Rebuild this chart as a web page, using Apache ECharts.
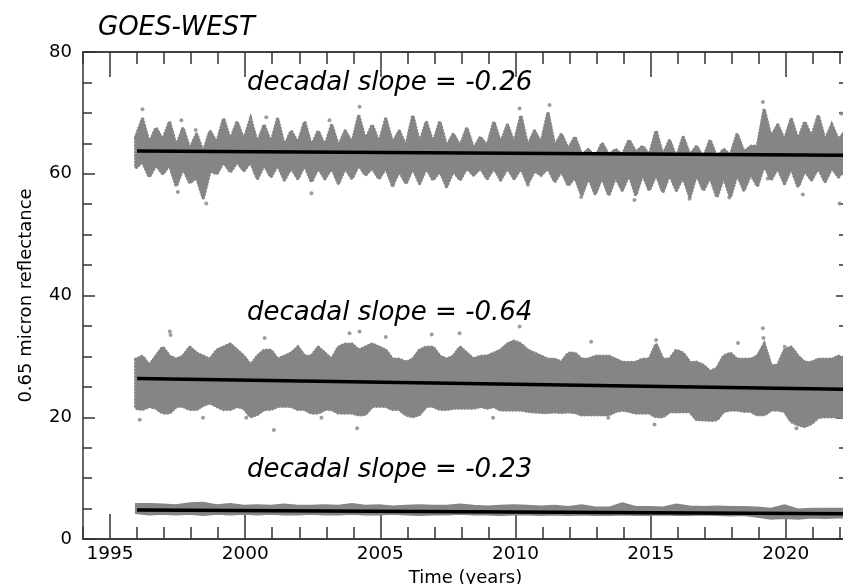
<!DOCTYPE html>
<html>
<head>
<meta charset="utf-8">
<script src="https://cdn.jsdelivr.net/npm/echarts@6/dist/echarts.min.js"></script>
<style>
html, body { margin: 0; padding: 0; background: #fff; }
#main { width: 843px; height: 584px; }
</style>
</head>
<body>
<div id="main"></div>
<script>
// sample times: every quarter year from 1995.95 (seasonal trough / peak alternating)
const tStart = 1995.95
const tStep = 0.25

// top series -- semi-annual cycle
const topPeakMax = [69, 67.5, 68.5, 67.5, 66.5, 67, 69, 68.5, 69, 68, 69, 67, 68.5, 67, 68, 67, 69.5,
  68, 69, 67, 69.5, 68.5, 68.5, 66.5, 67.5, 66, 68.5, 68, 69.5, 67, 70, 66.5, 66, 64,
  65, 64, 65.5, 64.5, 67, 65.5, 66, 64.5, 65.5, 64, 66.5, 64.5, 70.5, 68, 69, 68.5, 69.5, 68, 67]
const topPeakLow = [62, 61.5, 61.5, 61, 59.5, 60.5, 62, 62, 62, 61.5, 61.5, 61, 61.5, 61, 61, 61, 61.5,
  61, 61, 60.5, 61, 61, 60.5, 60.5, 61, 61, 61, 61, 61, 60.5, 61, 60.5, 59.5, 59.5,
  59.5, 59.5, 60, 60, 60, 60, 59.5, 60, 59.5, 59.5, 60, 60, 61.5, 61, 61, 60.5, 61, 61, 61]
const topTroughHigh = [66, 65, 65.5, 64.5, 64, 63.5, 65, 65.5, 65.5, 65, 65, 64.5, 65, 64.5, 64.5, 64.5, 65, 65.5,
  65, 65, 64.5, 65, 65, 64.5, 64.5, 64, 64.5, 65, 65, 64.5, 65, 64.5, 64, 63, 62.5,
  63, 63, 63.5, 63, 63, 62.5, 63, 62.5, 62.5, 63, 63.5, 64.5, 66, 65.5, 65.5, 66, 65.5, 65.5]
const topTroughMin = [61, 59.5, 60, 58, 58.5, 56, 60, 60.3, 60.5, 59.2, 59.5, 59, 59.2, 58.7, 59.2, 58.4, 59.2, 59.8,
  59.2, 58.1, 58.4, 58.4, 59, 57.9, 59, 59.8, 59.2, 59, 59.2, 58.4, 59.8, 58.7, 58.1, 56.5, 56.7,
  56.5, 57.3, 56.5, 57.3, 57, 57.3, 56.2, 57.3, 56.2, 56.2, 57.3, 58, 59, 58.4, 57.9, 59, 58.7, 59.5]
// isolated points outside the top band [year, value]
const topOutliers = [[1997.51, 57.0], [1998.56, 55.1], [1997.64, 68.8], [1998.17, 67.2], [2004.23, 71.0],
  [2000.78, 69.3], [2003.12, 68.8], [2002.45, 56.8], [2005.46, 58.1], [2010.46, 58.2], [2011.26, 71.3],
  [2010.15, 70.7], [2012.43, 56.2], [2019.15, 71.8], [2014.4, 55.7], [2016.44, 55.9], [2017.91, 56.1],
  [2020.63, 56.6], [2021.99, 55.1], [2020.5, 58.4], [2019.33, 59.2], [2022.05, 69.9], [1996.2, 70.6]]

// middle series, quarter-year envelope
const midHigh = [29.5, 30, 28.5, 30, 31.5, 30, 29.5, 30, 31.5, 30.5,
  30, 29.5, 31, 31.5, 32, 31, 30, 28.5, 30, 31,
  31, 29.5, 30, 30.5, 31.5, 30, 30, 31.5, 30.5, 29.5,
  31.5, 32, 32, 31, 31.5, 32, 31.5, 31, 29.5, 29.5,
  29, 29.5, 31, 31.5, 31.5, 30, 29.5, 30, 31.5, 30.5,
  29.5, 30, 30, 30.5, 31, 32, 32.5, 32, 31, 30.5,
  30, 29.5, 29.5, 29, 30.5, 30.5, 29.5, 29.5, 30, 30,
  30, 29.5, 29, 29, 29, 29.5, 29.5, 32, 29.5, 29.5,
  31, 30.5, 29, 29, 28.5, 27.5, 28, 30, 30.5, 29.5,
  29.5, 29.5, 30, 32, 28.5, 28.5, 31, 31.5, 30, 29,
  29, 29.5, 29.5, 29.5, 30, 29.5]
const midLow = [21.5, 21.3, 21.8, 21.5, 20.7, 20.7, 21.8, 21.8, 21.3, 21.3,
  22, 22.4, 21.8, 21.3, 21.3, 21.8, 21.5, 20.1, 20.5, 21.3,
  21.3, 21.8, 21.8, 21.8, 21.3, 21.3, 20.7, 20.7, 21.3, 21.3,
  20.7, 20.7, 20.7, 20.4, 20.5, 21.8, 21.8, 21.8, 21.3, 21.3,
  20.4, 20.1, 20.5, 21.8, 21.8, 21.3, 21.3, 21.5, 21.5, 21.5,
  21.5, 21.8, 21.5, 21.8, 21.2, 21.2, 21.2, 21.2, 21, 20.9,
  20.8, 20.8, 20.9, 20.8, 20.9, 20.8, 20.4, 20.4, 20.4, 20.4,
  20.4, 21, 21.2, 21, 20.7, 20.7, 20.7, 20.1, 20.1, 20.9,
  20.9, 20.9, 20.9, 19.6, 19.6, 19.5, 19.6, 21, 21.2, 21.2,
  21, 21, 20.4, 20.4, 21.2, 21.2, 21, 19.3, 18.8, 18.5,
  19, 20, 20.1, 20.1, 20.1, 20]
const midOutliers = [[1997.21, 34.1], [1997.24, 33.5], [2001.06, 17.9], [2004.14, 18.2], [2000.72, 33.0],
  [2003.86, 33.8], [2004.23, 34.1], [2007.93, 33.8], [1996.1, 19.6], [1998.44, 19.9], [2000.04, 19.9],
  [2002.82, 19.9], [2010.15, 34.9], [2012.8, 32.4], [2015.2, 32.7], [2019.15, 34.6], [2019.17, 33.0],
  [2018.23, 32.2], [2019.96, 31.6], [2015.14, 18.8], [2020.39, 18.2], [2009.17, 19.9], [2013.43, 19.9],
  [2017.49, 19.9], [2005.2, 33.2], [2006.9, 33.6]]

// bottom series, half-year envelope
const lowStep = 0.5
const lowHigh = [5.8, 5.8, 5.7, 5.6, 5.9, 6.0, 5.6, 5.8, 5.5, 5.6,
  5.5, 5.7, 5.5, 5.5, 5.6, 5.5, 5.8, 5.5, 5.6, 5.4,
  5.5, 5.6, 5.5, 5.5, 5.7, 5.5, 5.4, 5.5, 5.6, 5.5,
  5.4, 5.5, 5.3, 5.6, 5.2, 5.2, 5.9, 5.3, 5.3, 5.2,
  5.7, 5.4, 5.3, 5.4, 5.3, 5.3, 5.2, 5.0, 5.6, 4.9,
  5.0, 5.0, 5.0, 5.0]
const lowLow = [4.2, 4.0, 4.1, 4.0, 4.1, 3.9, 4.1, 4.0, 4.1, 4.0,
  4.1, 4.0, 4.0, 4.1, 4.0, 4.0, 4.1, 4.0, 4.0, 4.1,
  4.0, 3.9, 4.0, 4.0, 4.1, 4.0, 4.0, 3.9, 4.0, 4.0,
  3.9, 4.0, 3.9, 4.0, 3.9, 3.9, 4.0, 3.9, 3.9, 4.0,
  3.9, 3.9, 4.0, 3.9, 3.8, 3.9, 3.6, 3.3, 3.4, 3.3,
  3.5, 3.4, 3.5, 3.5]

// linear fits [start, end]
const fitYears = [1996.0, 2022.3]
const topFit = [63.75, 63.03]
const midFit = [26.35, 24.6]
const lowFit = [4.75, 4.13]

const slopes = ['-0.26', '-0.64', '-0.23']
const majorYears = [1995, 2000, 2005, 2010, 2015, 2020]
const minorYears = []
for (let y = 1994; y <= 2022; y++) if (y % 5 !== 0) minorYears.push(y)

// interleave trough / peak values onto the quarter grid
const topHigh = [], topLow = []
for (let i = 0; i < topTroughMin.length; i++) {
  topHigh.push(topTroughHigh[i], topPeakMax[i])
  topLow.push(topTroughMin[i], topPeakLow[i])
}

const gray = '#858585'
const axisColor = '#333'
const font = 'DejaVu Sans'

var chart = echarts.init(document.getElementById('main'), null, { renderer: 'canvas' })

function band(step, hi, lo, dotted) {
  const times = hi.map((v, i) => tStart + i * step)
  return {
    type: 'custom',
    xAxisIndex: 0,
    yAxisIndex: 0,
    clip: true,
    silent: true,
    z: 2,
    data: [[times[0], lo[0]]],
    encode: { x: 0, y: 1 },
    renderItem: function (params, api) {
      const pts = []
      for (let i = 0; i < times.length; i++) pts.push(api.coord([times[i], hi[i]]))
      for (let i = times.length - 1; i >= 0; i--) pts.push(api.coord([times[i], lo[i]]))
      return {
        type: 'polygon',
        shape: { points: pts },
        style: dotted
          ? { fill: gray, stroke: gray, lineWidth: 3.6, lineDash: [0.1, 3.2], lineCap: 'round' }
          : { fill: gray, stroke: gray, lineWidth: 1.5 }
      }
    }
  }
}

function dots(pts) {
  return {
    type: 'scatter',
    xAxisIndex: 0,
    yAxisIndex: 0,
    silent: true,
    symbolSize: 4,
    z: 2,
    itemStyle: { color: gray },
    data: pts
  }
}

function fit(vals) {
  return {
    type: 'line',
    xAxisIndex: 0,
    yAxisIndex: 0,
    symbol: 'none',
    silent: true,
    z: 3,
    lineStyle: { color: '#000', width: 3.5 },
    data: [[fitYears[0], vals[0]], [fitYears[1], vals[1]]]
  }
}

function xAx(pos, ticks, len, labels) {
  return {
    type: 'value', gridIndex: 0, position: pos, min: 1994, max: 2022.3,
    axisLine: { show: true, onZero: false, lineStyle: { color: axisColor, width: 1.5 } },
    axisTick: { show: true, inside: true, length: len, customValues: ticks, lineStyle: { color: axisColor, width: 1.5 } },
    axisLabel: labels
      ? { show: true, customValues: majorYears, formatter: v => String(v), fontFamily: font, fontSize: 18.5, color: '#000', margin: 6 }
      : { show: false },
    splitLine: { show: false }
  }
}

function yAx(pos, labels) {
  return {
    type: 'value', gridIndex: 0, position: pos, min: 0, max: 80, interval: 20,
    axisLine: { show: true, lineStyle: { color: axisColor, width: 1.5 } },
    axisTick: { show: true, inside: true, length: 12, lineStyle: { color: axisColor, width: 1.5 } },
    minorTick: { show: true, splitNumber: 4, length: 9, lineStyle: { color: axisColor, width: 1.5 } },
    axisLabel: { show: labels, fontFamily: font, fontSize: 18, color: '#000', margin: 11 },
    splitLine: { show: false },
    minorSplitLine: { show: false }
  }
}

const xBottom = xAx('bottom', majorYears, 25, true)
xBottom.name = 'Time (years)'
xBottom.nameLocation = 'middle'
xBottom.nameGap = 28
xBottom.nameTextStyle = { fontFamily: font, fontSize: 18, color: '#000' }

const yLeft = yAx('left', true)
yLeft.name = '0.65 micron reflectance'
yLeft.nameLocation = 'middle'
yLeft.nameGap = 48
yLeft.nameTextStyle = { fontFamily: font, fontSize: 18, color: '#000' }

function note(txt, x, y, size) {
  return {
    type: 'text', x: x, y: y, silent: true, z: 10,
    style: { text: txt, fill: '#000', font: 'italic ' + size + 'px "DejaVu Sans"', textVerticalAlign: 'middle' }
  }
}

const option = {
  animation: false,
  backgroundColor: '#fff',
  grid: { left: 83, top: 52, right: -5, bottom: 45, outerBoundsMode: 'none', containLabel: false },
  xAxis: [
    xBottom,
    xAx('bottom', minorYears, 12, false),
    xAx('top', majorYears, 25, false),
    xAx('top', minorYears, 12, false)
  ],
  yAxis: [yLeft, yAx('right', false)],
  graphic: [
    note('GOES-WEST', 98, 28, 26),
    note('decadal slope = ' + slopes[0], 247, 83, 26),
    note('decadal slope = ' + slopes[1], 247, 313, 26),
    note('decadal slope = ' + slopes[2], 247, 470, 26)
  ],
  series: [
    band(tStep, topHigh, topLow, true),
    band(tStep, midHigh, midLow, true),
    band(lowStep, lowHigh, lowLow, false),
    dots(topOutliers),
    dots(midOutliers),
    fit(topFit),
    fit(midFit),
    fit(lowFit)
  ]
}

chart.setOption(option)
</script>
</body>
</html>
